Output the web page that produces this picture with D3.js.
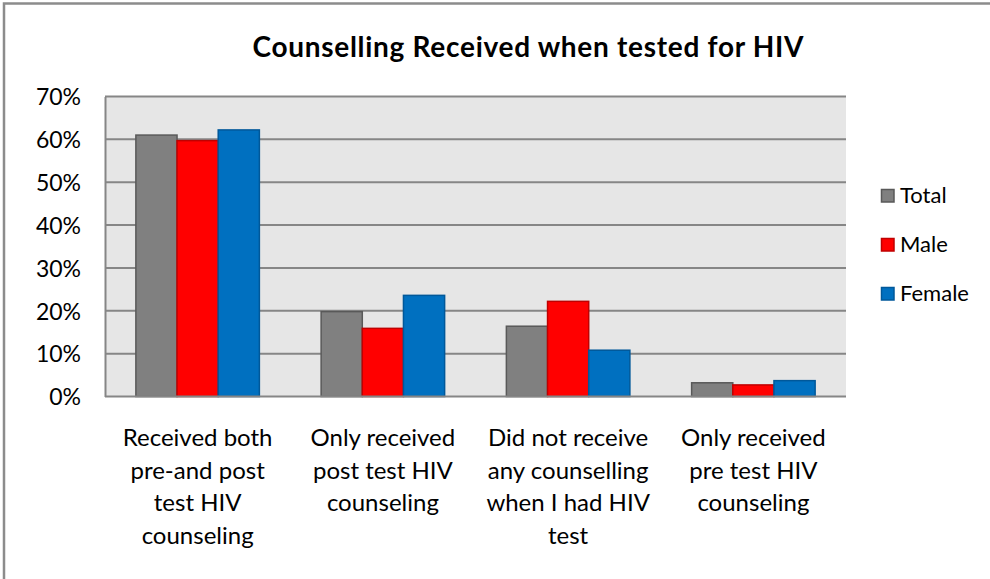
<!DOCTYPE html>
<html>
<head>
<meta charset="utf-8">
<script src="https://cdn.jsdelivr.net/npm/d3@7"></script>
<style>
  html, body { margin: 0; padding: 0; background: #fff; }
  svg { display: block; }
  text { font-family: Lato, "Open Sans", sans-serif; fill: #000; }
</style>
</head>
<body>
<svg id="chart" width="990" height="579"></svg>
<script>
// Category labels, one entry per line of the wrapped label
const categories = [
  ["Received both", "pre-and post", "test HIV", "counseling"],
  ["Only received", "post test HIV", "counseling"],
  ["Did not receive", "any counselling", "when I had HIV", "test"],
  ["Only received", "pre test HIV", "counseling"]
];
const seriesNames = ["Total", "Male", "Female"];
const totalValues  = [61.0, 19.8, 16.4, 3.2];
const maleValues   = [59.7, 15.9, 22.2, 2.7];
const femaleValues = [62.2, 23.6, 10.8, 3.7];
const yTicks = [0, 10, 20, 30, 40, 50, 60, 70];

const fills   = ["#808080", "#ff0000", "#0070c0"];
const strokes = ["#595959", "#c00000", "#00589a"];
const seriesValues = [totalValues, maleValues, femaleValues];

const svg = d3.select("#chart");

// outer chart frame (left and top edges)
svg.append("path")
  .attr("d", "M4,600 L4,3.5 L1000,3.5")
  .attr("fill", "none").attr("stroke", "#8c8c8c").attr("stroke-width", 2.5);

const plot = { left: 105, right: 846, top: 96.5, bottom: 396.5 };

const x = d3.scaleBand()
  .domain(d3.range(categories.length))
  .range([plot.left, plot.right])
  .paddingInner(1 / 3)
  .paddingOuter(1 / 6);

const xs = d3.scaleBand()
  .domain(d3.range(seriesNames.length))
  .range([0, x.bandwidth()]);

const y = d3.scaleLinear().domain([0, 70]).range([plot.bottom, plot.top]);

// plot background
svg.append("rect")
  .attr("x", plot.left).attr("y", plot.top)
  .attr("width", plot.right - plot.left).attr("height", plot.bottom - plot.top)
  .attr("fill", "#e6e6e6");

// horizontal gridlines
svg.append("g").selectAll("line").data(yTicks.filter(t => t > 0)).join("line")
  .attr("x1", plot.left).attr("x2", plot.right)
  .attr("y1", d => y(d)).attr("y2", d => y(d))
  .attr("stroke", "#868686").attr("stroke-width", 2);

// y axis
const yAxis = d3.axisLeft(y).tickValues(yTicks).tickFormat(d => d + "%").tickSize(0).tickPadding(24);
const gy = svg.append("g").attr("transform", `translate(${plot.left},0)`).call(yAxis);
gy.select(".domain").attr("stroke", "#868686").attr("stroke-width", 2);
gy.selectAll("text").style("font-size", "23px").attr("dy", "0.36em");

// bars
seriesValues.forEach((vals, s) => {
  svg.append("g").selectAll("rect").data(vals).join("rect")
    .attr("x", (d, i) => x(i) + xs(s))
    .attr("y", d => y(d))
    .attr("width", xs.bandwidth())
    .attr("height", d => y(0) - y(d))
    .attr("fill", fills[s])
    .attr("stroke", strokes[s])
    .attr("stroke-width", 1.5);
});

// x axis baseline
svg.append("line")
  .attr("x1", plot.left).attr("x2", plot.right)
  .attr("y1", y(0)).attr("y2", y(0))
  .attr("stroke", "#868686").attr("stroke-width", 2);

// category labels
const xl = svg.append("g").selectAll("text").data(categories).join("text")
  .attr("text-anchor", "middle")
  .style("font-size", "24px")
  .attr("transform", (d, i) => `translate(${x(i) + x.bandwidth() / 2},446)`);
xl.selectAll("tspan").data(d => d).join("tspan")
  .attr("x", 0).attr("y", (d, j) => j * 32.5).text(d => d);

// title
svg.append("text")
  .attr("x", 528).attr("y", 57)
  .attr("text-anchor", "middle")
  .attr("textLength", 551).attr("lengthAdjust", "spacing")
  .style("font-size", "28px").style("font-weight", "bold")
  .text("Counselling Received when tested for HIV");

// legend
const lg = svg.append("g").selectAll("g").data(seriesNames).join("g")
  .attr("transform", (d, i) => `translate(881,${189 + i * 49})`);
lg.append("rect")
  .attr("x", 0.5).attr("y", 0.5).attr("width", 12.5).attr("height", 12.5)
  .attr("fill", (d, i) => fills[i]).attr("stroke", (d, i) => strokes[i]).attr("stroke-width", 1.5);
lg.append("text")
  .attr("x", 19).attr("y", 14)
  .style("font-size", "22px")
  .text(d => d);
</script>
</body>
</html>
